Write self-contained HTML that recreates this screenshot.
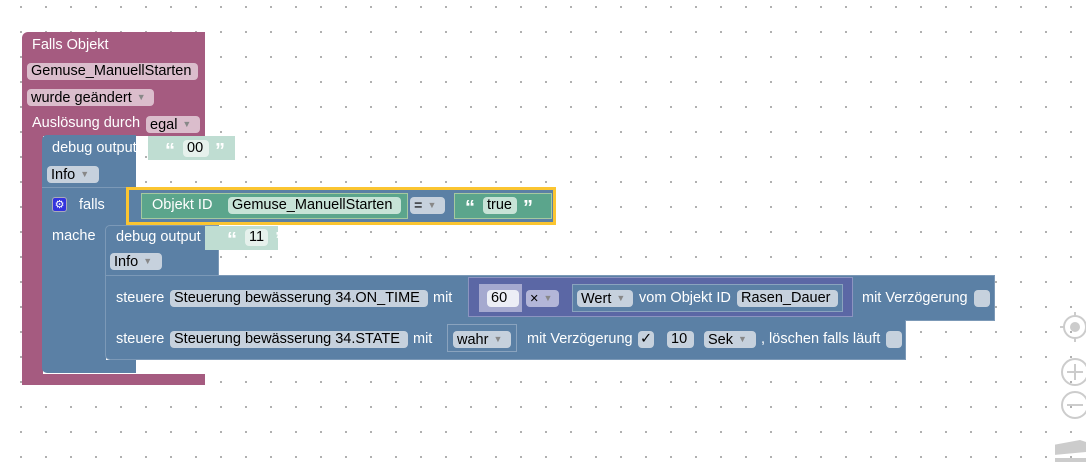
<!DOCTYPE html>
<html><head><meta charset="utf-8"><style>
html,body{margin:0;padding:0}
body{width:1086px;height:462px;position:relative;overflow:hidden;background:#fff;
background-image:radial-gradient(circle,#9a9a9a 0.8px,transparent 1.1px);background-size:25px 25px;background-position:8.5px -5.5px;
font-family:"Liberation Sans",Arial,sans-serif;font-size:14.5px;}
.a{position:absolute;box-sizing:border-box}
.t{position:absolute;color:#fff;white-space:nowrap;line-height:17px}
.p{position:absolute;border-radius:4px;color:#000;white-space:nowrap;line-height:17px;padding:0 4px;box-sizing:border-box;height:17px}
.pk{background:#dbbdcc}
.bl{background:#c6d1dd}
.gr{background:#c7e3d7}
.dd{color:#888;font-size:9px;margin-left:5px;vertical-align:2px}
.q{font-size:20px;font-weight:bold;line-height:20px}
.pink{background:#a55b80}
.blue{background:#5b80a5}
.green{background:#5ba58c}
</style></head><body>

<div class="a pink" style="left:22px;top:32px;width:183px;height:104px;border-radius:6px 0 0 0"></div>
<div class="a pink" style="left:22px;top:130px;width:21px;height:255px"></div>
<div class="a pink" style="left:22px;top:374px;width:183px;height:11px"></div>
<div class="t" style="left:32px;top:37px">Falls Objekt</div>
<div class="p pk" style="left:27px;top:63px;width:171px">Gemuse_ManuellStarten</div>
<div class="p pk" style="left:27px;top:89px;width:127px">wurde geändert<span class="dd">▼</span></div>
<div class="t" style="left:32px;top:115px">Auslösung durch</div>
<div class="p pk" style="left:146px;top:116px;width:54px">egal<span class="dd">▼</span></div>

<div class="a blue" style="left:42px;top:135px;width:94px;height:52px;border-radius:5px 0 0 0"></div>
<div class="t" style="left:52px;top:140px">debug output</div>
<div class="p bl" style="left:47px;top:166px;width:52px">Info<span class="dd">▼</span></div>
<div class="a" style="left:148px;top:136px;width:87px;height:24px;background:#bfddd2"></div>
<div class="t q" style="left:165px;top:141px">“</div>
<div class="p gr" style="left:183px;top:140px;width:26px;background:#e6f1ec">00</div>
<div class="t q" style="left:215px;top:141px">”</div>

<div class="a blue" style="left:42px;top:187px;width:94px;height:40px;border-top:1px solid #7c99b7"></div>
<div class="a blue" style="left:42px;top:225px;width:64px;height:140px"></div>
<div class="a blue" style="left:42px;top:360px;width:94px;height:13px;border-radius:0 0 0 5px"></div>
<div class="a" style="left:52px;top:197px;width:15px;height:15px;background:#3333dd;border-radius:3px;color:#fff;font-size:11px;text-align:center;line-height:15px;border:1px solid #aab">⚙</div>
<div class="t" style="left:79px;top:197px">falls</div>
<div class="t" style="left:52px;top:228px">mache</div>

<div class="a" style="left:126px;top:187px;width:430px;height:38px;background:#5b80a5;border:3px solid #fbc531"></div>
<div class="a green" style="left:141px;top:193px;width:267px;height:26px;border:1px solid #a5c9a0"></div>
<div class="t" style="left:152px;top:197px">Objekt ID</div>
<div class="p gr" style="left:228px;top:197px;width:173px">Gemuse_ManuellStarten</div>
<div class="p bl" style="left:410px;top:197px;width:35px">=<span class="dd">▼</span></div>
<div class="a green" style="left:454px;top:193px;width:98px;height:26px;border:1px solid #a5c9a0"></div>
<div class="t q" style="left:465px;top:198px">“</div>
<div class="p gr" style="left:483px;top:197px;width:34px">true</div>
<div class="t q" style="left:523px;top:198px">”</div>

<div class="a blue" style="left:105px;top:225px;width:114px;height:51px;border:1px solid #7c99b7;border-bottom:none;border-radius:5px 0 0 0"></div>
<div class="t" style="left:116px;top:229px">debug output</div>
<div class="p bl" style="left:110px;top:253px;width:52px">Info<span class="dd">▼</span></div>
<div class="a" style="left:205px;top:226px;width:73px;height:24px;background:#bfddd2"></div>
<div class="t q" style="left:227px;top:230px">“</div>
<div class="p gr" style="left:245px;top:229px;width:23px;background:#e6f1ec">11</div>
<div class="t q" style="left:275px;top:230px">”</div>

<div class="a blue" style="left:105px;top:275px;width:890px;height:46px;border:1px solid #7c99b7"></div>
<div class="t" style="left:116px;top:290px">steuere</div>
<div class="p bl" style="left:170px;top:290px;width:258px">Steuerung bewässerung 34.ON_TIME</div>
<div class="t" style="left:433px;top:290px">mit</div>
<div class="a" style="left:468px;top:277px;width:385px;height:40px;background:#5b67a5;border:1px solid #8c94c0"></div>
<div class="a" style="left:479px;top:284px;width:43px;height:28px;background:#a5a9cf"></div>
<div class="p" style="left:487px;top:290px;width:32px;background:#eceef6">60</div>
<div class="p bl" style="left:526px;top:290px;width:33px;background:#b3b6d8">×<span class="dd">▼</span></div>
<div class="a blue" style="left:572px;top:284px;width:271px;height:28px;border:1px solid #8aa3be"></div>
<div class="p bl" style="left:577px;top:290px;width:56px">Wert<span class="dd">▼</span></div>
<div class="t" style="left:639px;top:290px">vom Objekt ID</div>
<div class="p bl" style="left:737px;top:290px;width:101px">Rasen_Dauer</div>
<div class="t" style="left:862px;top:290px">mit Verzögerung</div>
<div class="p bl" style="left:974px;top:290px;width:16px"></div>

<div class="a blue" style="left:105px;top:320px;width:801px;height:40px;border:1px solid #7c99b7;border-top:none;border-radius:0 0 0 5px"></div>
<div class="t" style="left:116px;top:331px">steuere</div>
<div class="p bl" style="left:170px;top:331px;width:238px">Steuerung bewässerung 34.STATE</div>
<div class="t" style="left:413px;top:331px">mit</div>
<div class="a blue" style="left:447px;top:324px;width:70px;height:28px;border:1px solid #8aa3be"></div>
<div class="p bl" style="left:453px;top:331px;width:58px">wahr<span class="dd">▼</span></div>
<div class="t" style="left:527px;top:331px">mit Verzögerung</div>
<div class="p bl" style="left:638px;top:331px;width:16px;padding:0 2px">✓</div>
<div class="p bl" style="left:667px;top:331px;width:27px">10</div>
<div class="p bl" style="left:704px;top:331px;width:52px">Sek<span class="dd">▼</span></div>
<div class="t" style="left:761px;top:331px">, löschen falls läuft</div>
<div class="p bl" style="left:886px;top:331px;width:16px"></div>

<svg class="a" style="left:1055px;top:310px" width="31" height="152">
<g fill="none" stroke="#ccc" stroke-width="2">
<circle cx="20" cy="17" r="11"/><line x1="20" y1="2" x2="20" y2="6"/><line x1="20" y1="28" x2="20" y2="32"/><line x1="5" y1="17" x2="9" y2="17"/>
<circle cx="20" cy="62" r="13"/><line x1="12" y1="62" x2="28" y2="62"/><line x1="20" y1="54" x2="20" y2="70"/>
<circle cx="20" cy="95" r="13"/><line x1="12" y1="95" x2="28" y2="95"/>
</g>
<circle cx="20" cy="17" r="5" fill="#ccc"/>
<path d="M-2 135 L25 130 L31 132 L31 142 L-2 145Z" fill="#ccc"/>
<rect x="0" y="148" width="31" height="4" fill="#ccc"/>
</svg>
</body></html>
